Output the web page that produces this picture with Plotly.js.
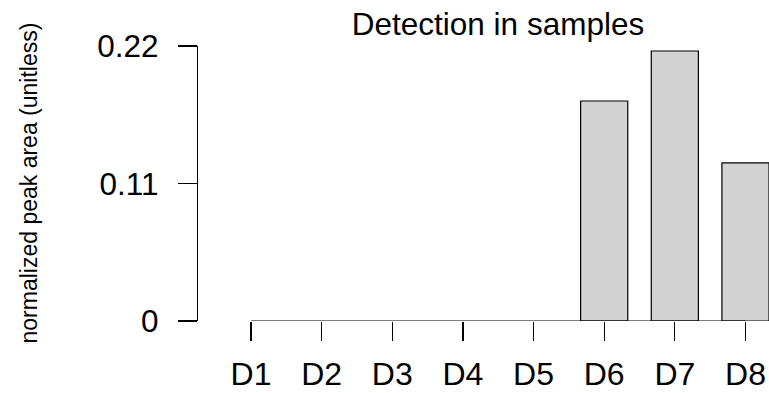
<!DOCTYPE html>
<html>
<head>
<meta charset="utf-8">
<script src="https://cdn.plot.ly/plotly-3.0.1.min.js"></script>
<style>html,body{margin:0;padding:0;background:#fff;}#chart{width:769px;height:393px;}</style>
</head>
<body>
<div id="chart"></div>
<script>
const categories = ["D1", "D2", "D3", "D4", "D5", "D6", "D7", "D8"];
const values = [0, 0, 0, 0, 0, 0.176, 0.216, 0.1265];
const yTickVals = [0, 0.11, 0.22];
const yTickText = ["0", "0.11", "0.22"];
const chartTitle = "Detection in samples";
const yLabel = "normalized peak area (unitless)";

const FONT = "'Liberation Sans', Arial, Helvetica, sans-serif";

const traces = [
  {
    type: "bar",
    x: categories,
    y: values,
    width: 0.667,
    marker: {
      color: "#d3d3d3",
      line: { color: "#000000", width: values.map(v => (v > 0 ? 1.2 : 0)) }
    },
    cliponaxis: false,
    hoverinfo: "x+y"
  },
  {
    type: "scatter",
    mode: "lines",
    x: [categories[0], categories[categories.length - 1]],
    y: [0, 0],
    line: { color: "#000000", width: 1.2 },
    cliponaxis: false,
    hoverinfo: "skip"
  }
];

const layout = {
  width: 769,
  height: 393,
  margin: { l: 198, r: 0, t: 46, b: 72, pad: 0 },
  paper_bgcolor: "#ffffff",
  plot_bgcolor: "#ffffff",
  showlegend: false,
  font: { family: FONT, color: "#000000" },
  title: {
    text: chartTitle,
    font: { family: FONT, size: 31.5, color: "#000000" },
    x: 498 / 769,
    xref: "container",
    xanchor: "center",
    y: 1 - 24 / 393,
    yref: "container",
    yanchor: "middle"
  },
  xaxis: {
    type: "category",
    range: [-0.75, 7.333],
    showline: false,
    showgrid: false,
    zeroline: false,
    ticks: "outside",
    ticklen: 19,
    tickwidth: 1.2,
    tickcolor: "#000000",
    tickfont: { family: FONT, size: 32, color: "#000000" },
    ticklabelstandoff: 6
  },
  yaxis: {
    range: [0, 0.22],
    showline: true,
    linecolor: "#000000",
    linewidth: 1.2,
    showgrid: false,
    zeroline: false,
    ticks: "outside",
    ticklen: 19,
    tickwidth: 1.2,
    tickcolor: "#000000",
    tickvals: yTickVals,
    ticktext: yTickText,
    tickfont: { family: FONT, size: 31.5, color: "#000000" },
    ticklabelstandoff: 13
  },
  annotations: [
    {
      text: yLabel,
      xref: "paper",
      yref: "paper",
      x: (28 - 198) / 571,
      y: 0.5,
      xanchor: "center",
      yanchor: "middle",
      textangle: -90,
      showarrow: false,
      font: { family: FONT, size: 23, color: "#000000" }
    }
  ]
};

Plotly.newPlot("chart", traces, layout, { displayModeBar: false, staticPlot: true });
</script>
</body>
</html>
